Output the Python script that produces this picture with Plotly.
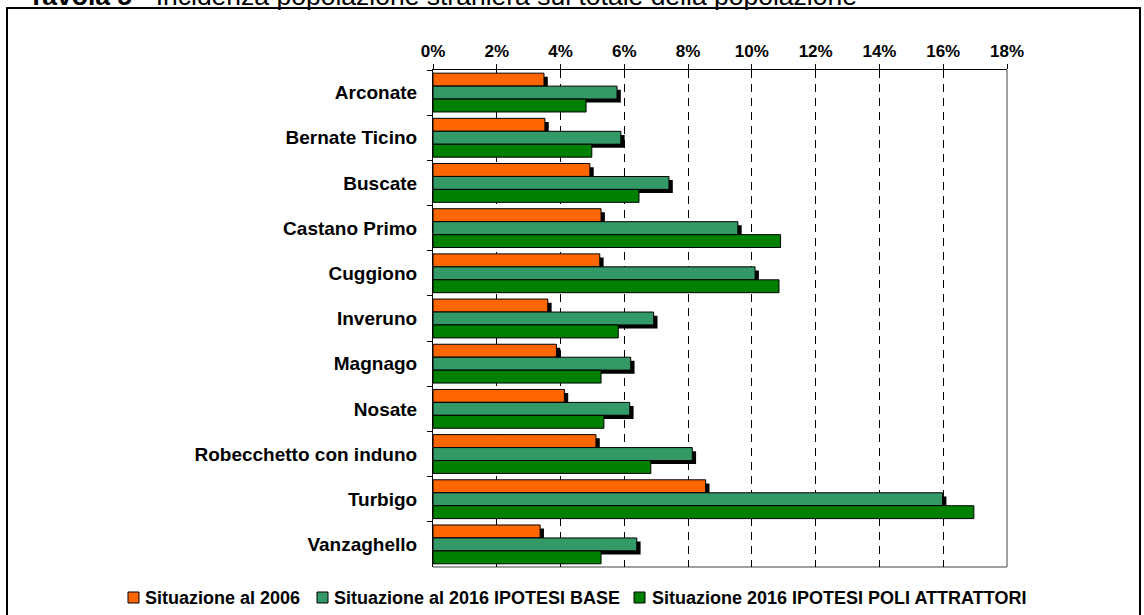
import plotly.graph_objects as go

categories = ["Arconate", "Bernate Ticino", "Buscate", "Castano Primo", "Cuggiono",
              "Inveruno", "Magnago", "Nosate", "Robecchetto con induno", "Turbigo", "Vanzaghello"]
sit_2006 = [3.48, 3.51, 4.92, 5.27, 5.23, 3.60, 3.87, 4.12, 5.11, 8.55, 3.36]
base_2016 = [5.77, 5.89, 7.40, 9.56, 10.10, 6.92, 6.20, 6.17, 8.13, 15.98, 6.39]
poli_2016 = [4.80, 4.98, 6.46, 10.90, 10.85, 5.81, 5.27, 5.36, 6.83, 16.96, 5.27]
series_names = ["Situazione al 2006", "Situazione al 2016 IPOTESI BASE",
                "Situazione 2016 IPOTESI POLI ATTRATTORI"]
tick_vals = [0, 2, 4, 6, 8, 10, 12, 14, 16, 18]
tick_text = [f"{v}%" for v in tick_vals]

colors = ["#FF6600", "#339966", "#008000"]
W, H = 1144, 615
L, R, T, B = 433, 1007, 70, 567
pw, ph = R - L, B - T

def px_x(p):
    return (p - L) / pw

def px_y(p):
    return (B - p) / ph

FONT = "Arial, Liberation Sans, sans-serif"
bw = 0.285
offsets = [-0.43, -0.143, 0.144]
sh_dx = 0.12
sh_dy = 0.08

fig = go.Figure()
# drop shadows
for vals, off in [(sit_2006, offsets[0]), (base_2016, offsets[1])]:
    fig.add_trace(go.Bar(
        y=categories, x=[v + sh_dx for v in vals], orientation="h",
        offset=off + sh_dy, width=bw, marker=dict(color="black", line=dict(width=0)),
        showlegend=False, hoverinfo="skip"))
for vals, name, col, off in zip([sit_2006, base_2016, poli_2016], series_names, colors, offsets):
    fig.add_trace(go.Bar(
        y=categories, x=vals, orientation="h", name=name,
        offset=off, width=bw, showlegend=False,
        marker=dict(color=col, line=dict(color="black", width=1))))

shapes = [
    dict(type="line", xref="paper", yref="paper", x0=1, x1=1, y0=0, y1=1,
         line=dict(color="#808080", width=1.5), layer="below"),
    dict(type="line", xref="paper", yref="paper", x0=0, x1=1, y0=0, y1=0,
         line=dict(color="#808080", width=1.5), layer="below"),
    dict(type="rect", xref="paper", yref="paper",
         x0=px_x(7), x1=px_x(1140), y0=px_y(8), y1=px_y(640),
         line=dict(color="black", width=2), fillcolor="rgba(0,0,0,0)", layer="below"),
]
annotations = [
    dict(xref="paper", yref="paper", x=px_x(26), y=px_y(-4.5), xanchor="left", yanchor="middle",
         showarrow=False, font=dict(size=26.5, color="black", family=FONT),
         text="<b>Tavola 5</b> - Incidenza popolazione straniera sul totale della popolazione"),
]

# manual legend (one row, as in the reference)
leg_y = 598
leg_sq = [128, 317, 634]
leg_tx = [144, 333, 651]
for name, col, sx, tx in zip(series_names, colors, leg_sq, leg_tx):
    shapes.append(dict(type="rect", xref="paper", yref="paper",
                       x0=px_x(sx), x1=px_x(sx + 11), y0=px_y(leg_y - 6), y1=px_y(leg_y + 5),
                       line=dict(color="black", width=1), fillcolor=col, layer="above"))
    annotations.append(dict(xref="paper", yref="paper", x=px_x(tx), y=px_y(leg_y),
                            xanchor="left", yanchor="middle", showarrow=False, borderpad=0,
                            text=f"<b>{name}</b>", font=dict(size=18, color="black", family=FONT)))

fig.update_layout(
    width=W, height=H,
    margin=dict(l=L, r=W - R, t=T, b=H - B, autoexpand=False),
    barmode="overlay",
    paper_bgcolor="white", plot_bgcolor="rgba(0,0,0,0)",
    font=dict(family=FONT, color="black"),
    showlegend=False,
    xaxis=dict(side="top", range=[0, 18], tickvals=tick_vals, ticktext=tick_text,
               showgrid=True, gridcolor="black", gridwidth=1, griddash="8px,6px",
               showline=True, linecolor="black", linewidth=1,
               ticks="outside", ticklen=5, tickcolor="black", automargin=False,
               tickfont=dict(size=17, weight="bold"), zeroline=False, fixedrange=True),
    yaxis=dict(autorange="reversed", showgrid=False, showline=True, linecolor="black", linewidth=1,
               ticks="outside", ticklen=5, tickcolor="black", tickson="boundaries",
               automargin=False, tickfont=dict(size=19, weight="bold"), ticklabelstandoff=11,
               fixedrange=True),
    shapes=shapes,
    annotations=annotations,
)

fig.write_html("out.html", config={"displayModeBar": False, "staticPlot": True},
               post_script="document.body.style.margin='0';document.body.style.overflow='hidden';")
